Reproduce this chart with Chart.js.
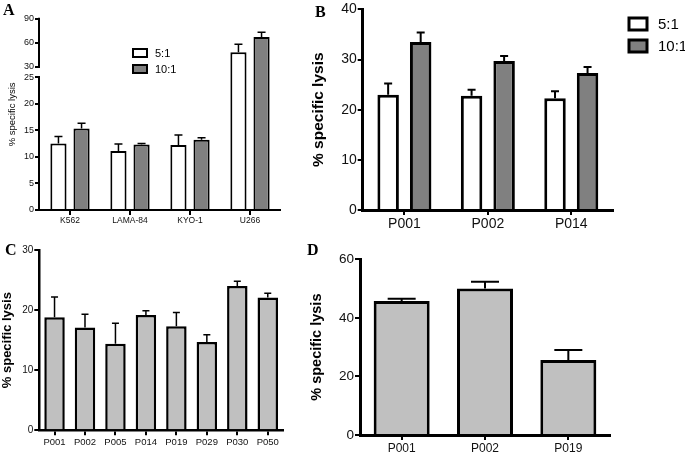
<!DOCTYPE html>
<html>
<head>
<meta charset="utf-8">
<script src="https://cdn.jsdelivr.net/npm/chart.js@4.4.1/dist/chart.umd.min.js"></script>
<style>
  body { margin: 0; background: #fff; }
  #wrap { position: relative; width: 685px; height: 459px; overflow: hidden; }
  canvas { position: absolute; }
  .letter { position: absolute; font-family: 'Liberation Serif', 'Times New Roman', serif; font-weight: bold; font-size: 16px; line-height: 16px; color: #000; }
</style>
</head>
<body>
<div id="wrap">
  <canvas id="chartA" width="300" height="230" style="left:0;top:0"></canvas>
  <canvas id="chartB" width="385" height="230" style="left:300px;top:0"></canvas>
  <canvas id="chartC" width="300" height="229" style="left:0;top:230px"></canvas>
  <canvas id="chartD" width="385" height="229" style="left:300px;top:230px"></canvas>
  <div class="letter" style="left:3px;top:2px">A</div>
  <div class="letter" style="left:315px;top:4px">B</div>
  <div class="letter" style="left:5px;top:242px">C</div>
  <div class="letter" style="left:307px;top:242px">D</div>
</div>
<script>
// Panel A - cell lines
const cellLines = ['K562', 'LAMA-84', 'KYO-1', 'U266'];
const lysisA_5to1 = [12.5, 11.1, 12.2, 48];
const semA_5to1 = [1.3, 1.3, 1.9, 10];
const lysisA_10to1 = [15.3, 12.3, 13.2, 67];
const semA_10to1 = [1.0, 0.2, 0.4, 6];
const ticksA = [0, 5, 10, 15, 20, 25, 30, 60, 90];

// Panel B - patients, two ratios
const patientsB = ['P001', 'P002', 'P014'];
const lysisB_5to1 = [23.0, 22.8, 22.3];
const semB_5to1 = [2.2, 1.2, 1.4];
const lysisB_10to1 = [33.5, 29.7, 27.3];
const semB_10to1 = [1.9, 1.0, 1.2];

// Panel C
const patientsC = ['P001', 'P002', 'P005', 'P014', 'P019', 'P029', 'P030', 'P050'];
const lysisC = [18.8, 17.1, 14.4, 19.2, 17.3, 14.7, 24.0, 22.1];
const semC = [3.4, 2.2, 3.4, 0.7, 2.3, 1.2, 0.8, 0.7];

// Panel D
const patientsD = ['P001', 'P002', 'P019'];
const lysisD = [45.8, 50.0, 25.6];
const semD = [0.7, 2.3, 3.4];

const WHITE = '#ffffff';
const DARK = '#808080';
const LIGHT = '#c0c0c0';

// broken y axis of panel A: 0-25 linear, then 30-90 squeezed
function brokenA(v) {
    return v <= 25 ? v : 26.94 + (v - 30) * 0.1504;
}

const errorBars = {
    id: 'errorBars',
    afterDatasetsDraw(chart, args, opts) {
        const ctx = chart.ctx;
        const y = chart.scales.y;
        chart.data.datasets.forEach((ds, i) => {
            const meta = chart.getDatasetMeta(i);
            meta.data.forEach((bar, j) => {
                const yt = y.getPixelForValue(ds.errTop[j]);
                ctx.save();
                ctx.strokeStyle = '#000';
                ctx.lineWidth = opts.width;
                ctx.beginPath();
                ctx.moveTo(bar.x, bar.y);
                ctx.lineTo(bar.x, yt);
                ctx.moveTo(bar.x - opts.cap / 2, yt);
                ctx.lineTo(bar.x + opts.cap / 2, yt);
                ctx.stroke();
                ctx.restore();
            });
        });
    }
};

const boxLegend = {
    id: 'boxLegend',
    afterDraw(chart, args, opts) {
        if (!opts.show) return;
        const ctx = chart.ctx;
        chart.data.datasets.forEach((ds, i) => {
            const top = opts.y + i * opts.step;
            ctx.save();
            ctx.fillStyle = ds.backgroundColor;
            ctx.fillRect(opts.x, top, opts.w, opts.h);
            ctx.strokeStyle = '#000';
            ctx.lineWidth = opts.line;
            ctx.strokeRect(opts.x, top, opts.w, opts.h);
            ctx.fillStyle = '#000';
            ctx.font = opts.font;
            ctx.textBaseline = 'middle';
            ctx.fillText(ds.label, opts.textX, top + opts.h / 2 + 1);
            ctx.restore();
        });
    }
};

function bars(label, values, sem, color, border, map) {
    map = map || (v => v);
    return {
        label: label,
        data: values.map(map),
        errTop: values.map((v, i) => map(v + sem[i])),
        backgroundColor: color,
        borderColor: '#000',
        borderWidth: border,
        borderSkipped: 'bottom'
    };
}

function makeChart(id, cfg) {
    return new Chart(document.getElementById(id), {
        type: 'bar',
        data: { labels: cfg.labels, datasets: cfg.datasets },
        options: {
            responsive: false,
            animation: false,
            devicePixelRatio: 1,
            layout: { padding: cfg.padding },
            categoryPercentage: cfg.catPct,
            barPercentage: cfg.barPct,
            plugins: {
                legend: { display: false },
                tooltip: { enabled: false },
                errorBars: cfg.err,
                boxLegend: cfg.legend || { show: false }
            },
            scales: {
                x: {
                    offset: true,
                    afterFit: s => { s.height = cfg.xHeight; },
                    grid: { display: true, offset: false, drawOnChartArea: false, color: '#000', lineWidth: 2, tickLength: 5 },
                    border: { display: true, color: '#000', width: cfg.axisW },
                    ticks: { color: '#111', font: cfg.xFont, padding: 1, maxRotation: 0, autoSkip: false }
                },
                y: {
                    min: 0,
                    max: cfg.yMax,
                    afterFit: s => { s.width = cfg.yWidth; },
                    afterBuildTicks: cfg.yTicks ? (s => { s.ticks = cfg.yTicks.map(v => ({ value: cfg.map(v) })); }) : undefined,
                    grid: { display: true, drawOnChartArea: false, color: '#000', lineWidth: 2, tickLength: 5 },
                    border: { display: cfg.yBorder !== false, color: '#000', width: cfg.axisW },
                    ticks: Object.assign({ color: '#111', font: cfg.yFont, padding: 1 },
                        cfg.yTicks ? { callback: (val, i) => cfg.yTicks[i] } : { stepSize: cfg.step }),
                    title: { display: true, text: '% specific lysis', color: '#000', font: cfg.titleFont, padding: { top: cfg.titlePad, bottom: 0 } }
                }
            }
        },
        plugins: [errorBars, boxLegend].concat(cfg.extra || [])
    });
}

// panel A draws its own y axis line with a gap between 25 and 30
const splitAxisA = {
    id: 'splitAxisA',
    afterDraw(chart) {
        const ctx = chart.ctx;
        const y = chart.scales.y;
        const x = chart.chartArea.left - 1;
        ctx.save();
        ctx.strokeStyle = '#000';
        ctx.lineWidth = 2;
        ctx.beginPath();
        ctx.moveTo(x, y.getPixelForValue(0) + 1);
        ctx.lineTo(x, y.getPixelForValue(25) - 1);
        ctx.moveTo(x, y.getPixelForValue(brokenA(30)) + 1);
        ctx.lineTo(x, y.getPixelForValue(brokenA(90)) - 1);
        ctx.stroke();
        ctx.restore();
    }
};

makeChart('chartA', {
    labels: cellLines,
    datasets: [
        bars('5:1', lysisA_5to1, semA_5to1, WHITE, 2, brokenA),
        bars('10:1', lysisA_10to1, semA_10to1, DARK, 2, brokenA)
    ],
    padding: { left: 0, right: 20, top: 18.7, bottom: 0 },
    catPct: 0.77, barPct: 0.7,
    xHeight: 20, yWidth: 40, yMax: brokenA(90),
    yTicks: ticksA, map: brokenA, yBorder: false,
    axisW: 2,
    xFont: { family: 'Liberation Sans', size: 8.5 },
    yFont: { family: 'Liberation Sans', size: 9 },
    titleFont: { family: 'Liberation Sans', size: 9.5 },
    titlePad: 7,
    err: { cap: 8, width: 1.5 },
    legend: { show: true, x: 133, y: 49, w: 14, h: 8, step: 16, line: 2, textX: 155, font: '11px "Liberation Sans"' },
    extra: [splitAxisA]
});

makeChart('chartB', {
    labels: patientsB,
    datasets: [
        bars('5:1', lysisB_5to1, semB_5to1, WHITE, 3),
        bars('10:1', lysisB_10to1, semB_10to1, DARK, 3)
    ],
    padding: { left: 0, right: 72, top: 9.3, bottom: 0 },
    catPct: 0.78, barPct: 0.66,
    xHeight: 20, yWidth: 62.7, yMax: 40, step: 10,
    axisW: 3,
    xFont: { family: 'Liberation Sans', size: 14 },
    yFont: { family: 'Liberation Sans', size: 14 },
    titleFont: { family: 'Liberation Sans', size: 15.5, weight: 'bold' },
    titlePad: 9,
    err: { cap: 8, width: 2 },
    legend: { show: true, x: 329, y: 18, w: 18, h: 12, step: 22, line: 3, textX: 358, font: '15px "Liberation Sans"' }
});

makeChart('chartC', {
    labels: patientsC,
    datasets: [bars('lysis', lysisC, semC, LIGHT, 2.5)],
    padding: { left: 0, right: 17, top: 20, bottom: 0 },
    catPct: 0.8, barPct: 0.84,
    xHeight: 28.7, yWidth: 39.3, yMax: 30, step: 10,
    axisW: 2.5,
    xFont: { family: 'Liberation Sans', size: 9.5 },
    yFont: { family: 'Liberation Sans', size: 10 },
    titleFont: { family: 'Liberation Sans', size: 13, weight: 'bold' },
    titlePad: 0,
    err: { cap: 7, width: 1.5 }
});

makeChart('chartD', {
    labels: patientsD,
    datasets: [bars('lysis', lysisD, semD, LIGHT, 3)],
    padding: { left: 0, right: 75, top: 29.3, bottom: 0 },
    catPct: 0.8, barPct: 0.84,
    xHeight: 24, yWidth: 60, yMax: 60, step: 20,
    axisW: 3,
    xFont: { family: 'Liberation Sans', size: 12 },
    yFont: { family: 'Liberation Sans', size: 13.5 },
    titleFont: { family: 'Liberation Sans', size: 14.5, weight: 'bold' },
    titlePad: 8,
    err: { cap: 28, width: 2 }
});
</script>
</body>
</html>
